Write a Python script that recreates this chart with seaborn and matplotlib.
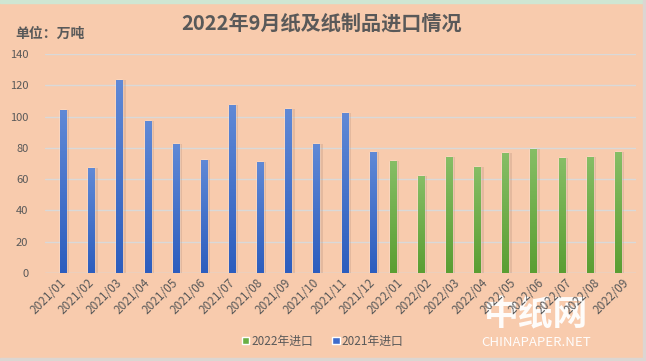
import numpy as np
import pandas as pd
import matplotlib
matplotlib.use("Agg")
import matplotlib.pyplot as plt
import seaborn as sns
from matplotlib.colors import LinearSegmentedColormap
from matplotlib.patches import Rectangle

months = ["2021/01", "2021/02", "2021/03", "2021/04", "2021/05", "2021/06",
          "2021/07", "2021/08", "2021/09", "2021/10", "2021/11", "2021/12",
          "2022/01", "2022/02", "2022/03", "2022/04", "2022/05", "2022/06",
          "2022/07", "2022/08", "2022/09"]
imports_2021 = [104.2, 67.1, 123.4, 97.2, 82.5, 72.3, 107.4, 71.0, 104.9,
                82.5, 102.3, 77.4]
imports_2022 = [71.6, 62.0, 74.2, 67.8, 76.7, 79.3, 73.5, 74.2, 77.4]
series_names = ["2022年进口", "2021年进口"]
yticks = [0, 20, 40, 60, 80, 100, 120, 140]

BG = "#F8CBAD"
TXT = "#595959"
GREEN = "#6AAF45"
BLUE = "#3F6CCB"

rows = []
for m, v in zip(months[:12], imports_2021):
    rows.append({"month": m, "series": series_names[1], "value": v})
for m, v in zip(months[12:], imports_2022):
    rows.append({"month": m, "series": series_names[0], "value": v})
df = pd.DataFrame(rows)

sns.set_theme(style="white")
plt.rcParams["font.family"] = ["Noto Sans CJK SC", "DejaVu Sans"]

fig = plt.figure(figsize=(6.46, 3.61), dpi=100, facecolor=BG)
ax = fig.add_axes([45 / 646, 1 - 273 / 361, (636 - 45) / 646, (273 - 54) / 361])
ax.set_facecolor(BG)

sns.barplot(data=df, x="month", y="value", hue="series", order=months,
            hue_order=series_names, palette=[GREEN, BLUE], width=0.57,
            gap=0.25, dodge=True, ax=ax, legend=True, saturation=1)

# gradient fill per bar
cm_blue = LinearSegmentedColormap.from_list("b", ["#2C5DBE", "#6089D6"])
cm_green = LinearSegmentedColormap.from_list("g", ["#5A9E32", "#86BE66"])
grad = np.linspace(0, 1, 256).reshape(-1, 1)
for p in list(ax.patches):
    h = p.get_height()
    if not np.isfinite(h) or h <= 0:
        continue
    fc = p.get_facecolor()
    cmap = cm_green if fc[1] > fc[2] else cm_blue
    x0, w = p.get_x(), p.get_width()
    # soft shadow
    ax.bar(x0 + w / 2 + w * 0.35, h, width=w * 1.4, bottom=0,
           color="#8a6a5a", alpha=0.18, zorder=1.5, linewidth=0)
    im = ax.imshow(grad, cmap=cmap, origin="lower", aspect="auto",
                   extent=[x0, x0 + w, 0, h], zorder=2)
    im.set_clip_path(p)
    p.set_zorder(2)

ax.set_xlim(-0.5, len(months) - 0.5)
ax.set_ylim(0, 140)
ax.set_yticks(yticks)
ax.set_yticklabels([str(t) for t in yticks], fontsize=8, color=TXT)
ax.yaxis.grid(True, color="#D9D9D9", linewidth=1)
ax.set_axisbelow(True)
for s in ax.spines.values():
    s.set_visible(False)
ax.axhline(0, color="#D9D9D9", linewidth=1, zorder=1)
ax.tick_params(axis="y", length=0, pad=12)
ax.tick_params(axis="x", length=0, pad=2)
ax.set_xticks(range(len(months)))
ax.set_xticklabels(months, rotation=45, ha="right", rotation_mode="anchor",
                   fontsize=8.5, color=TXT)
ax.set_xlabel("")
ax.set_ylabel("")

leg = ax.legend(loc="center", bbox_to_anchor=(323 / 646, 1 - 341 / 361),
                bbox_transform=fig.transFigure, ncol=2, frameon=False,
                fontsize=8.5, handlelength=0.6, handleheight=0.6,
                handletextpad=0.2, columnspacing=1.6)
for t in leg.get_texts():
    t.set_color(TXT)

fig.text(322 / 646, 1 - 23 / 361, "2022年9月纸及纸制品进口情况", ha="center",
         va="center", fontsize=14.5, fontweight="bold", color=TXT)
fig.text(15 / 646, 1 - 34 / 361, "单位：万吨", ha="left", va="center",
         fontsize=10, fontweight="bold", color=TXT)

# watermark (behind the tick labels)
fig.text(536 / 646, 1 - 315 / 361, "中纸网", ha="center", va="center",
         fontsize=25, fontweight="bold", color="white", alpha=0.95, zorder=-1)
fig.text(536 / 646, 1 - 342 / 361, "CHINAPAPER.NET", ha="center", va="center",
         fontsize=9.5, color="white", alpha=0.95, zorder=-1)

# thin frame strips (top green line, bottom/right light gray)
fig.patches.append(Rectangle((0, 1 - 3 / 361), 1, 3 / 361, transform=fig.transFigure,
                             color="#CFE6D2", zorder=-2))
fig.patches.append(Rectangle((0, 0), 1, 3 / 361, transform=fig.transFigure,
                             color="#DCD6D2", zorder=-2))
fig.patches.append(Rectangle((1 - 3 / 646, 0), 3 / 646, 1, transform=fig.transFigure,
                             color="#DCD6D2", zorder=-2))

fig.savefig("out.png", dpi=100, facecolor=BG)
